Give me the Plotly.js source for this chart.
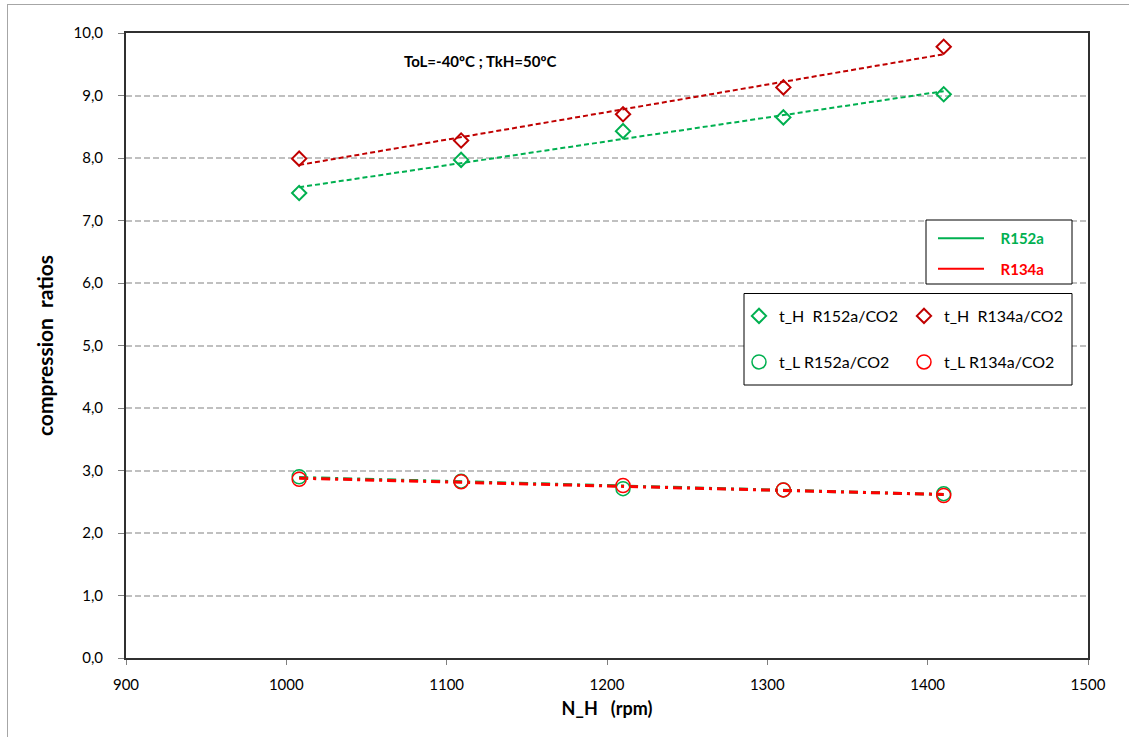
<!DOCTYPE html>
<html>
<head>
<meta charset="utf-8">
<script src="https://cdn.plot.ly/plotly-3.0.1.min.js"></script>
<style>
  html, body { margin: 0; padding: 0; background: #fff; overflow: hidden; }
  #wrap { position: relative; width: 1129px; height: 737px; }
  #chart { position: absolute; left: 0; top: 0; width: 1129px; height: 737px; }
  #frame { position: absolute; left: 7px; top: 4px; width: 1200px; height: 800px;
           border: 1px solid #A6A6A6; pointer-events: none; }
</style>
</head>
<body>
<div id="wrap">
  <div id="chart"></div>
  <div id="frame"></div>
</div>
<script>
// ---- data ----
const nH = [1008, 1109, 1210, 1310, 1410];
const tH_R152a = [7.44, 7.97, 8.43, 8.65, 9.02];
const tH_R134a = [7.99, 8.28, 8.70, 9.13, 9.78];
const tL_R152a = [2.90, 2.83, 2.71, 2.69, 2.63];
const tL_R134a = [2.86, 2.82, 2.76, 2.69, 2.60];
const xTicks = [900, 1000, 1100, 1200, 1300, 1400, 1500];
const yTicks = [0, 1, 2, 3, 4, 5, 6, 7, 8, 9, 10];

// linear least-squares trendline, evaluated at the first and last x
function trend(xs, ys) {
  const n = xs.length;
  const mx = xs.reduce((a, b) => a + b, 0) / n;
  const my = ys.reduce((a, b) => a + b, 0) / n;
  let sxy = 0, sxx = 0;
  for (let i = 0; i < n; i++) { sxy += (xs[i] - mx) * (ys[i] - my); sxx += (xs[i] - mx) ** 2; }
  const b = sxy / sxx, a = my - b * mx;
  const x2 = [xs[0], xs[n - 1]];
  return { x: x2, y: x2.map(v => a + b * v) };
}

const GREEN = '#00B050', DKRED = '#C00000', RED = '#FF0000';
const FONT = 'Lato, "Open Sans", "DejaVu Sans", sans-serif';
const SP = '&nbsp;';

const trH152 = trend(nH, tH_R152a);
const trH134 = trend(nH, tH_R134a);
const trL152 = trend(nH, tL_R152a);
const trL134 = trend(nH, tL_R134a);

const traces = [
  // trendlines
  { x: trH152.x, y: trH152.y, mode: 'lines', line: { color: GREEN, width: 2, dash: '5px,3px' }, showlegend: false, hoverinfo: 'skip' },
  { x: trH134.x, y: trH134.y, mode: 'lines', line: { color: DKRED, width: 2, dash: '5px,3px' }, showlegend: false, hoverinfo: 'skip' },
  { x: trL152.x, y: trL152.y, mode: 'lines', line: { color: GREEN, width: 3, dash: '9px,5px,3px,5px' }, showlegend: false, hoverinfo: 'skip' },
  { x: trL134.x, y: trL134.y, mode: 'lines', line: { color: RED, width: 3, dash: '9px,5px,3px,5px' }, showlegend: false, hoverinfo: 'skip' },
  // markers
  { x: nH, y: tH_R152a, mode: 'markers', name: 't_H' + SP + SP + 'R152a/CO2', legend: 'legend2',
    marker: { symbol: 'diamond-open', size: 11, color: GREEN, line: { width: 2, color: GREEN } } },
  { x: nH, y: tH_R134a, mode: 'markers', name: 't_H' + SP + SP + 'R134a/CO2', legend: 'legend2',
    marker: { symbol: 'diamond-open', size: 11, color: DKRED, line: { width: 2, color: DKRED } } },
  { x: nH, y: tL_R152a, mode: 'markers', name: 't_L R152a/CO2', legend: 'legend3',
    marker: { symbol: 'circle-open', size: 14, color: GREEN, line: { width: 1.5, color: GREEN } } },
  { x: nH, y: tL_R134a, mode: 'markers', name: 't_L R134a/CO2', legend: 'legend3',
    marker: { symbol: 'circle-open', size: 14, color: RED, line: { width: 1.5, color: RED } } },
  // series legend (line samples)
  { x: [null], y: [null], mode: 'lines', name: SP + SP + SP + '<b><span style="color:' + GREEN + '">R152a</span></b>',
    legend: 'legend', legendgroup: 'g1', line: { color: GREEN, width: 2 } },
  { x: [null], y: [null], mode: 'lines', name: SP + SP + SP + '<b><span style="color:' + RED + '">R134a</span></b>',
    legend: 'legend', legendgroup: 'g2', line: { color: RED, width: 2 } }
];

// plot-area pixel geometry
const L = 126, T = 33, R = 1088, B = 658;
const W = R - L, H = B - T;
const px = v => (v - L) / W;
const py = v => (B - v) / H;

const layout = {
  width: 1129, height: 737,
  margin: { l: L, r: 1129 - R, t: T, b: 737 - B, pad: 0 },
  paper_bgcolor: '#ffffff', plot_bgcolor: '#ffffff',
  separators: ',.',
  font: { family: FONT, size: 15, color: '#000' },
  xaxis: {
    range: [900, 1500], tickvals: xTicks, tickformat: 'd',
    showgrid: false, zeroline: false,
    showline: true, linecolor: '#303030', linewidth: 2, mirror: true,
    ticks: 'outside', ticklen: 5, tickcolor: '#808080', tickwidth: 1,
    ticklabelstandoff: 7,
    tickfont: { family: FONT, size: 15, color: '#000' },
    title: { text: '<b>N_H' + SP + SP + SP + '(rpm)</b>', font: { family: FONT, size: 18, color: '#000' }, standoff: 10 }
  },
  yaxis: {
    range: [0, 10], tickvals: yTicks, tickformat: '.1f',
    showgrid: true, gridcolor: '#C0C0C0', gridwidth: 2, griddash: '6px,3px',
    zeroline: false,
    showline: true, linecolor: '#303030', linewidth: 2, mirror: true,
    ticks: 'outside', ticklen: 6, tickcolor: '#808080', tickwidth: 1,
    ticklabelstandoff: 12,
    tickfont: { family: FONT, size: 15, color: '#000' },
    title: { text: '<b>compression' + SP + SP + 'ratios</b>', font: { family: FONT, size: 21, color: '#000' }, standoff: 14 }
  },
  annotations: [{
    xref: 'paper', yref: 'paper', x: px(480), y: py(61), xanchor: 'center', yanchor: 'middle',
    text: '<b>ToL=-40ºC ; TkH=50ºC</b>', showarrow: false,
    font: { family: FONT, size: 15, color: '#000' }
  }],
  shapes: [
    { type: 'rect', xref: 'paper', yref: 'paper', layer: 'above',
      x0: px(926), x1: px(1072), y0: py(284), y1: py(220),
      line: { color: '#000', width: 1 }, fillcolor: '#fff' },
    { type: 'rect', xref: 'paper', yref: 'paper', layer: 'above',
      x0: px(744), x1: px(1072), y0: py(385), y1: py(293.5),
      line: { color: '#000', width: 1 }, fillcolor: '#fff' }
  ],
  showlegend: true,
  legend: {
    x: px(933), y: py(222), xanchor: 'left', yanchor: 'top',
    orientation: 'v', traceorder: 'grouped', tracegroupgap: 8,
    itemwidth: 46, bgcolor: 'rgba(0,0,0,0)', borderwidth: 0,
    font: { family: FONT, size: 15 }
  },
  legend2: {
    x: px(739), y: py(299), xanchor: 'left', yanchor: 'top',
    orientation: 'h', entrywidth: 120, entrywidthmode: 'pixels',
    itemwidth: 30, bgcolor: 'rgba(0,0,0,0)', borderwidth: 0,
    font: { family: FONT, size: 16, color: '#000' }
  },
  legend3: {
    x: px(739), y: py(345), xanchor: 'left', yanchor: 'top',
    orientation: 'h', entrywidth: 120, entrywidthmode: 'pixels',
    itemwidth: 30, bgcolor: 'rgba(0,0,0,0)', borderwidth: 0,
    font: { family: FONT, size: 16, color: '#000' }
  }
};

Plotly.newPlot('chart', traces, layout, { displayModeBar: false, staticPlot: true });
</script>
</body>
</html>
